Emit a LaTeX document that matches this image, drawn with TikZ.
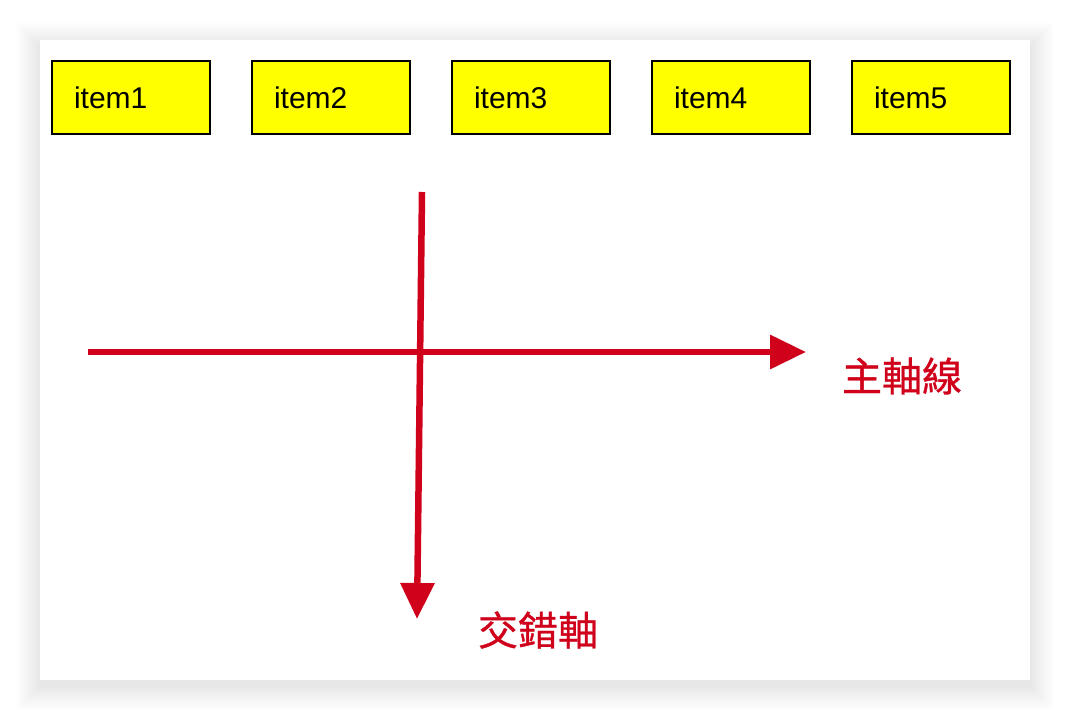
\documentclass[tikz,border=0pt]{standalone}
\usepackage{fontspec}
\setmainfont{Liberation Sans}
\newfontfamily\cjk[FakeBold=0.8]{Noto Sans CJK TC}
\usetikzlibrary{positioning,arrows.meta}
\definecolor{axisred}{RGB}{208,2,27}
\definecolor{itemyellow}{RGB}{255,255,0}
\tikzset{
  itembox/.style={draw=black, line width=1.6pt, fill=itemyellow, rectangle,
    minimum height=73pt, inner xsep=22pt, text width=114pt, align=left,
    font=\fontsize{30}{34}\selectfont},
  axisline/.style={draw=axisred, line width=6.5pt, -{Triangle[length=36pt,width=33pt]}},
  axislabel/.style={text=axisred, font=\cjk\fontsize{40}{44}\selectfont}
}
\begin{document}
\begin{tikzpicture}[x=1pt,y=-1pt]
\useasboundingbox (0,0) rectangle (1070,720);
% card with soft shadow
\foreach \i in {1,...,24}
  \fill[black,opacity=0.0025] (40-\i,40-\i+6) rectangle (1030+\i,680+\i+6);
\fill[white] (40,40) rectangle (1030,680);

\node (item1) at (131,97.5) [itembox] {item1};
\node (item2) at (331,97.5) [itembox] {item2};
\node (item3) at (531,97.5) [itembox] {item3};
\node (item4) at (731,97.5) [itembox] {item4};
\node (item5) at (931,97.5) [itembox] {item5};

\coordinate (mainstart) at (88,352);
\coordinate (mainend) at (806,352);
\coordinate (crossstart) at (422,192);
\coordinate (crossend) at (417,619);

\draw[axisline] (mainstart) -- (mainend);
\draw[axisline] (crossstart) -- (crossend);

\node (mainlabel) at (902,376) [axislabel] {主軸線};
\node (crosslabel) at (538,630) [axislabel] {交錯軸};
\end{tikzpicture}
\end{document}
